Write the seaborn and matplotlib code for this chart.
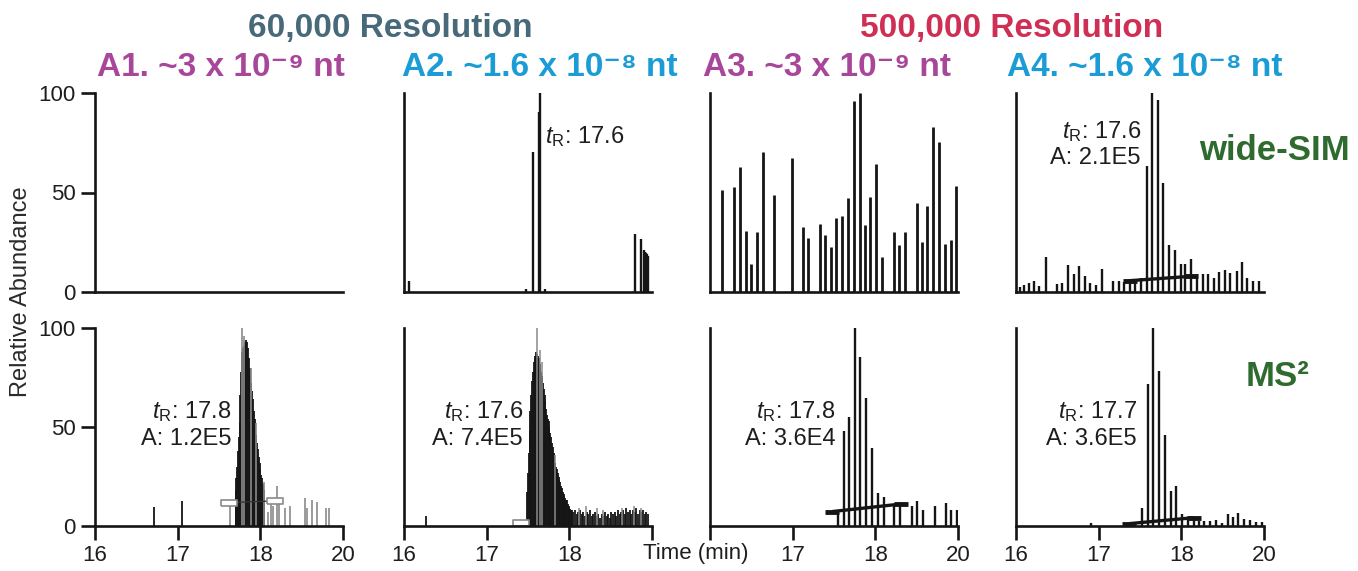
import matplotlib
matplotlib.use("Agg")
import matplotlib.pyplot as plt
import seaborn as sns

# ------------------------------------------------------------------
# data (time axis as drawn: 16, 17, 18, "20")
# ------------------------------------------------------------------
x_ticks = [16, 17, 18, 19]
x_ticklabels = ["16", "17", "18", "20"]
y_ticks = [0, 50, 100]

# wide-SIM row
a2_sim_t = [16.06, 17.48, 17.56, 17.63, 17.65, 17.71, 18.80, 18.87, 18.90, 18.91, 18.92, 18.93, 18.94, 18.95]
a2_sim_v = [5.4, 1.5, 70.4, 90.7, 100, 1.5, 29, 26.5, 21, 20.3, 20, 19.5, 19, 18]

a3_sim_t = [16.15, 16.29, 16.36, 16.43, 16.50, 16.57, 16.64, 16.78, 16.99, 17.12, 17.19, 17.33,
            17.39, 17.46, 17.53, 17.60, 17.67, 17.74, 17.81, 17.87, 17.94, 18.01, 18.08, 18.22,
            18.29, 18.36, 18.50, 18.57, 18.63, 18.70, 18.77, 18.84, 18.91, 18.98]
a3_sim_v = [51.5, 52.7, 62.8, 30.7, 13.9, 30.2, 70.4, 48.5, 67.4, 32.9, 26.9, 34.1,
            28.5, 22.8, 37.2, 38.3, 47.1, 95.8, 100, 33.8, 47.6, 64.5, 17.6, 30.2,
            23.5, 30.4, 44.8, 25.3, 43.4, 82.8, 75.3, 24.3, 26.2, 53.2]

a4_sim_t = [16.05, 16.10, 16.16, 16.22, 16.28, 16.36, 16.49, 16.56, 16.63, 16.70, 16.76, 16.83,
            16.90, 16.97, 17.04, 17.17, 17.24, 17.31, 17.38, 17.44, 17.51, 17.58, 17.65, 17.72,
            17.78, 17.85, 17.92, 17.99, 18.05, 18.12, 18.19, 18.26, 18.32, 18.39, 18.46, 18.53,
            18.59, 18.67, 18.73, 18.80, 18.87, 18.94]
a4_sim_v = [2.4, 3.7, 4.6, 5.4, 2.9, 17.6, 4.1, 4.6, 13.5, 8.8, 13.0, 7.9,
            4.6, 3.4, 11.8, 5.4, 5.7, 5.1, 6.3, 6.5, 7.1, 63.2, 100, 96.3,
            54.7, 23.5, 20.9, 13.9, 13.9, 16.4, 9.1, 9.1, 8.8, 7.1, 10.0, 11.3,
            9.6, 10.5, 15.2, 7.1, 5.7, 5.7]
a4_sim_base_t = [17.38, 18.12]
a4_sim_base_v = [5.7, 7.9]

# MS2 row
a1_ms2_t = [16.71, 17.05,
            17.70, 17.71, 17.72, 17.73, 17.74, 17.75, 17.76, 17.77, 17.78, 17.79,
            17.80, 17.81, 17.82, 17.83, 17.84, 17.85, 17.86, 17.87, 17.88, 17.89,
            17.90, 17.91, 17.92, 17.93, 17.94, 17.95, 17.96, 17.97, 17.98, 17.99,
            18.00, 18.01, 18.02, 18.03, 18.04, 18.05]
a1_ms2_v = [9.4, 12.8,
            18, 24, 30, 38, 45, 52, 66, 78, 88, 90,
            91, 92, 93, 94, 93, 90, 85, 80, 76, 72,
            68, 64, 58, 54, 50, 46, 42, 39, 35, 32,
            29, 26, 24, 21, 18, 14]
a1_ms2_grey_t = [17.63, 17.78, 17.80, 17.89, 17.95, 18.04, 18.09, 18.13, 18.15, 18.20,
                 18.23, 18.30, 18.36, 18.54, 18.57, 18.62, 18.69, 18.80, 18.83]
a1_ms2_grey_v = [12, 100, 96, 80, 52, 22, 7, 13.6, 10, 20,
                 13.6, 9, 10, 14, 9, 13, 12, 9, 9]
a1_ms2_box_t = [17.62, 18.18]
a1_ms2_box_v = [11.8, 12.7]

a2_ms2_t = [16.27,
            17.49, 17.50, 17.51, 17.52, 17.53, 17.54, 17.55, 17.56, 17.57, 17.58,
            17.59, 17.60, 17.61, 17.62, 17.63, 17.64, 17.65, 17.66, 17.67, 17.68,
            17.69, 17.70, 17.71, 17.72, 17.73, 17.74, 17.75, 17.76, 17.77, 17.78,
            17.79, 17.80, 17.81, 17.82, 17.83, 17.84, 17.85, 17.86, 17.87, 17.88,
            17.89, 17.90, 17.91, 17.92, 17.93, 17.94, 17.95, 17.96, 17.97, 17.98,
            17.99, 18.00, 18.01, 18.02,
            18.03, 18.05, 18.07, 18.09, 18.11, 18.13, 18.15, 18.17, 18.19, 18.21,
            18.23, 18.25, 18.27, 18.29, 18.31, 18.33, 18.35, 18.37, 18.39, 18.41,
            18.43, 18.45, 18.47, 18.49, 18.51, 18.53, 18.55, 18.57, 18.59, 18.61,
            18.63, 18.65, 18.67, 18.69, 18.71, 18.73, 18.75, 18.77, 18.79, 18.81,
            18.83, 18.85, 18.87, 18.89, 18.91, 18.93, 18.95]
a2_ms2_v = [5,
            17, 27, 37, 48, 58, 66, 73, 78, 83, 85,
            86, 88, 87, 86, 85, 82, 80, 78, 76, 72,
            69, 66, 63, 59, 56, 54, 53, 50, 47, 45,
            42, 40, 37, 35, 32, 30, 29, 27, 25, 23,
            22, 20, 19, 17, 16, 15, 14, 13, 13, 11,
            10, 9, 8.5, 8,
            8, 7, 8, 6, 7, 8, 6, 7, 5, 7,
            6, 8, 5, 6, 7, 5, 6, 4, 6, 5,
            7, 5, 6, 4, 7, 6, 7, 5, 8, 6,
            7, 8, 6, 9, 7, 8, 6, 8, 7, 9,
            6, 8, 7, 8, 6, 7, 6]
a2_ms2_grey_t = [17.61, 17.64, 17.67, 17.83, 18.12, 18.20, 18.33, 18.41, 18.64, 18.78, 18.87]
a2_ms2_grey_v = [100, 89, 83, 36, 9, 10, 9, 8, 9, 10, 9]
a2_ms2_box_t = [17.41]
a2_ms2_box_v = [1.6]

a3_ms2_t = [17.55, 17.62, 17.68, 17.75, 17.82, 17.89, 17.96, 18.03, 18.10, 18.23,
            18.30, 18.44, 18.51, 18.58, 18.72, 18.85, 18.92, 18.99]
a3_ms2_v = [6.4, 48.2, 55.3, 100, 85.3, 64.6, 39.3, 16.9, 14.8, 10.6,
            11.0, 10.1, 12.6, 8.1, 10.1, 11.8, 8.1, 8.1]
a3_ms2_base_t = [17.48, 18.31]
a3_ms2_base_v = [7.3, 11.1]

a4_ms2_t = [16.91, 17.53, 17.60, 17.66, 17.73, 17.80, 17.87, 17.94, 18.01, 18.08,
            18.15, 18.21, 18.28, 18.35, 18.42, 18.49, 18.56, 18.63, 18.69, 18.76,
            18.83, 18.90, 18.97]
a4_ms2_v = [1.4, 9.0, 71.7, 100, 78.3, 46.1, 17.8, 20.3, 6.3, 4.6,
            4.6, 2.5, 2.5, 2.5, 2.9, 1.4, 6.3, 4.6, 6.8, 3.4,
            2.9, 2.2, 2.2]
a4_ms2_base_t = [17.37, 18.15]
a4_ms2_base_v = [1.2, 4.2]

# ------------------------------------------------------------------
sns.set_style("ticks")
plt.rcParams['font.family'] = ['Liberation Sans', 'DejaVu Sans']
plt.rcParams['mathtext.fontset'] = 'custom'
plt.rcParams['mathtext.rm'] = 'Liberation Sans'
plt.rcParams['mathtext.it'] = 'Liberation Sans:italic'
plt.rcParams['mathtext.bf'] = 'Liberation Sans:bold'

BLACK = '#151515'
TXT = '#1e1e1e'
GREY = '#8a8a8a'
MAGENTA = '#a8479a'
CYAN = '#1b9cd6'
GREEN = '#2f6a2f'

W, H = 1358, 571
fig = plt.figure(figsize=(W / 100, H / 100), dpi=100)

lefts = [95, 404, 710, 1016]
rows = [(93, 292), (328, 526)]   # pixel top/bottom of each row

axes = [[None] * 4 for _ in range(2)]
for r, (ytop, ybot) in enumerate(rows):
    for c, xl in enumerate(lefts):
        ax = fig.add_axes([xl / W, 1 - ybot / H, 248 / W, (ybot - ytop) / H])
        ax.set_xlim(16, 19)
        ax.set_ylim(0, 100)
        sns.despine(ax=ax)
        for s in ['left', 'bottom']:
            ax.spines[s].set_linewidth(1.9)
            ax.spines[s].set_color(BLACK)
        ax.tick_params(width=1.9, length=10, color=BLACK, labelsize=16, pad=4,
                       labelcolor=TXT)
        ax.set_xticks(x_ticks)
        ax.set_yticks(y_ticks)
        if c == 0:
            ax.set_yticklabels([str(v) for v in y_ticks])
        else:
            ax.tick_params(axis='y', length=0, labelleft=False)
        if r == 0:
            ax.tick_params(axis='x', length=0, labelbottom=False)
        else:
            labels = list(x_ticklabels)
            if c == 1:
                labels[3] = ""
            if c == 2:
                labels[0] = ""
            ax.set_xticklabels(labels)
        axes[r][c] = ax

lw = 1.7

def bars(ax, t, v, color=BLACK, width=lw):
    ax.vlines(t, 0, v, colors=color, linewidth=width)

def base_line(ax, t, v):
    ax.plot(t, v, color=BLACK, lw=2.4, solid_capstyle='butt',
            marker='_', markersize=10, mew=3.5)

box_marker = [(-3, -1), (3, -1), (3, 1), (-3, 1), (-3, -1)]

def box_line(ax, t, v, color=GREY):
    ax.plot(t, v, color='#333333', lw=1.0, marker=box_marker, markersize=11,
            mfc='white', mec=color, mew=1.2)

def note(ax, x, y, s, ha='right'):
    ax.text(x, y, s, fontsize=17, ha=ha, va='baseline', color=TXT)

tR = r"$t_{\mathrm{R}}$: "

# wide-SIM row
ax = axes[0][1]
bars(ax, a2_sim_t, a2_sim_v)
note(ax, 17.70, 75, tR + "17.6", ha='left')

ax = axes[0][2]
bars(ax, a3_sim_t, a3_sim_v, width=2.0)

ax = axes[0][3]
bars(ax, a4_sim_t, a4_sim_v)
base_line(ax, a4_sim_base_t, a4_sim_base_v)
note(ax, 17.51, 77.4, tR + "17.6")
note(ax, 17.51, 64.3, "A: 2.1E5")

# MS2 row
ax = axes[1][0]
bars(ax, a1_ms2_t, a1_ms2_v, width=1.3)
bars(ax, a1_ms2_grey_t, a1_ms2_grey_v, color=GREY, width=1.2)
box_line(ax, a1_ms2_box_t, a1_ms2_box_v)
note(ax, 17.65, 54.5, tR + "17.8")
note(ax, 17.65, 41, "A: 1.2E5")

ax = axes[1][1]
bars(ax, a2_ms2_t, a2_ms2_v, width=1.3)
bars(ax, a2_ms2_grey_t, a2_ms2_grey_v, color=GREY, width=1.1)
box_line(ax, a2_ms2_box_t, a2_ms2_box_v)
note(ax, 17.44, 54.5, tR + "17.6")
note(ax, 17.44, 41, "A: 7.4E5")

ax = axes[1][2]
bars(ax, a3_ms2_t, a3_ms2_v)
base_line(ax, a3_ms2_base_t, a3_ms2_base_v)
note(ax, 17.52, 54.5, tR + "17.8")
note(ax, 17.52, 41, "A: 3.6E4")

ax = axes[1][3]
bars(ax, a4_ms2_t, a4_ms2_v)
base_line(ax, a4_ms2_base_t, a4_ms2_base_v)
note(ax, 17.46, 54.5, tR + "17.7")
note(ax, 17.46, 41, "A: 3.6E5")

# figure-level labels
fig.text(21 / W, 1 - 292 / H, "Relative Abundance", rotation=90, fontsize=17,
         ha='center', va='center', color='#2a2a2a')
fig.text(696 / W, 1 - 553 / H, "Time (min)", fontsize=16, ha='center', va='center',
         color=TXT)

tfs = 24
def head(x, y, s, color):
    fig.text(x / W, 1 - y / H, s, fontsize=tfs, fontweight='bold', color=color,
             ha='center', va='center')

head(390, 29, "60,000 Resolution", '#47697a')
head(1012, 29, "500,000 Resolution", '#cf2f55')
head(221, 68, "A1. ~3 x 10\u207b\u2079 nt", MAGENTA)
head(540, 68, "A2. ~1.6 x 10\u207b\u2078 nt", CYAN)
head(827, 68, "A3. ~3 x 10\u207b\u2079 nt", MAGENTA)
head(1145, 68, "A4. ~1.6 x 10\u207b\u2078 nt", CYAN)

fig.text(1274 / W, 1 - 150 / H, "wide-SIM", fontsize=25, fontweight='bold',
         color=GREEN, ha='center', va='center')
fig.text(1278 / W, 1 - 377 / H, "MS\u00b2", fontsize=25, fontweight='bold',
         color=GREEN, ha='center', va='center')

fig.savefig("out.png", dpi=100)
